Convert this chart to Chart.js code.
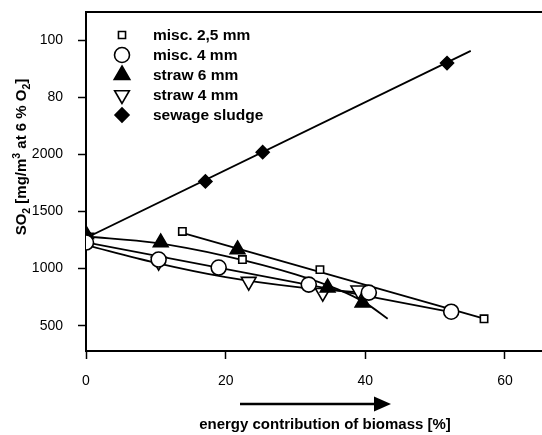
<!DOCTYPE html>
<html><head><meta charset="utf-8">
<script src="https://cdn.jsdelivr.net/npm/chart.js@4.4.0/dist/chart.umd.min.js"></script>
<style>html,body{margin:0;padding:0;background:#fff;}canvas{display:block;}</style>
</head><body>
<canvas id="c" width="542" height="435"></canvas>
<script>
// ---- data ----
const seriesLabels = ['misc. 2,5 mm', 'misc. 4 mm', 'straw 6 mm', 'straw 4 mm', 'sewage sludge'];
const misc25X = [13.8, 22.4, 33.5, 57.0];
const misc25Y = [1325, 1079, 991, 561];
const misc4X = [0, 10.4, 19.0, 31.9, 40.5, 52.3];
const misc4Y = [1228, 1079, 1009, 860, 790, 623];
const straw6X = [0, 10.7, 21.7, 34.6, 39.6];
const straw6Y = [1300, 1228, 1167, 833, 702];
const straw4X = [0, 10.4, 23.3, 33.9, 39.0];
const straw4Y = [1272, 1061, 886, 789, 810];
const sludgeX = [0, 17.1, 25.3, 51.7];
const sludgeY = [1290, 1763, 2018, 2798];
// fitted curves
const misc25FitX = [13.8, 57.0];
const misc25FitY = [1312, 563];
const misc4FitX = [0, 52.3];
const misc4FitY = [1230, 620];
const straw6FitX = [0, 10, 20, 30, 36, 40, 43.2];
const straw6FitY = [1281, 1225, 1110, 950, 820, 700, 561];
const straw4FitX = [0, 10, 20, 30, 39.6];
const straw4FitY = [1205, 1050, 925, 840, 789];
const sludgeFitX = [0, 55.1];
const sludgeFitY = [1268, 2905];
// axes
const xTickValues = [0, 20, 40, 60];
const xTickLabels = ['0', '20', '40', '60'];
const yTickValues = [500, 1000, 1500, 2000, 2500, 3000];
const yTickLabels = ['500', '1000', '1500', '2000', '80', '100'];
const xTitle = 'energy contribution of biomass [%]';

const FONT = "'Liberation Sans', Arial, Helvetica, sans-serif";
const pts = (xs, ys) => xs.map((x, i) => ({x: x, y: ys[i]}));

const markerStyles = [
  {pointStyle: 'rect', radius: 5.2, rotation: 0, fill: '#fff', legendRadius: 5},
  {pointStyle: 'circle', radius: 7.5, rotation: 0, fill: '#fff', legendRadius: 7.5},
  {pointStyle: 'triangle', radius: 8.5, rotation: 0, fill: '#000', legendRadius: 9},
  {pointStyle: 'triangle', radius: 8.5, rotation: 180, fill: '#fff', legendRadius: 8.5},
  {pointStyle: 'rectRot', radius: 6.5, rotation: 0, fill: '#000', legendRadius: 7}
];
const markerData = [pts(misc25X, misc25Y), pts(misc4X, misc4Y), pts(straw6X, straw6Y), pts(straw4X, straw4Y), pts(sludgeX, sludgeY)];
const fitData = [pts(misc25FitX, misc25FitY), pts(misc4FitX, misc4FitY), pts(straw6FitX, straw6FitY), pts(straw4FitX, straw4FitY), pts(sludgeFitX, sludgeFitY)];
const curved = [false, false, true, true, false];

const datasets = [];
markerData.forEach((d, i) => {
  const m = markerStyles[i];
  datasets.push({
    label: seriesLabels[i], data: d, showLine: false, order: 0,
    pointStyle: m.pointStyle, pointRadius: m.radius, pointRotation: m.rotation,
    pointBackgroundColor: m.fill, pointBorderColor: '#000', pointBorderWidth: 1.6
  });
});
fitData.forEach((d, i) => {
  datasets.push({
    label: seriesLabels[i] + ' fit', data: d, showLine: true, order: 1,
    pointRadius: 0, borderColor: '#000', borderWidth: 1.8, fill: false,
    tension: curved[i] ? 0.4 : 0, cubicInterpolationMode: curved[i] ? 'monotone' : 'default'
  });
});

function drawMarker(ctx, style, x, y, r, rot, fill) {
  ctx.save();
  ctx.fillStyle = fill; ctx.strokeStyle = '#000'; ctx.lineWidth = 1.6;
  if (Chart.helpers && Chart.helpers.drawPoint) {
    Chart.helpers.drawPoint(ctx, {pointStyle: style, radius: r, rotation: rot, borderWidth: 1.6}, x, y);
  }
  ctx.restore();
}

const extras = {
  id: 'extras',
  afterDraw(chart) {
    const ctx = chart.ctx, a = chart.chartArea;
    ctx.save();
    // top frame line
    ctx.strokeStyle = '#000'; ctx.lineWidth = 2;
    ctx.beginPath(); ctx.moveTo(a.left - 1, a.top); ctx.lineTo(a.right, a.top); ctx.stroke();
    // legend
    ctx.font = "bold 15.5px " + FONT; ctx.fillStyle = '#000';
    ctx.textBaseline = 'middle'; ctx.textAlign = 'left';
    for (let i = 0; i < seriesLabels.length; i++) {
      const y = 35 + i * 20;
      const m = markerStyles[i];
      drawMarker(ctx, m.pointStyle, 122, y, m.legendRadius, m.rotation, m.fill);
      ctx.fillStyle = '#000';
      ctx.fillText(seriesLabels[i], 153, y + 0.5);
    }
    // x title
    ctx.font = "bold 15px " + FONT; ctx.textAlign = 'center';
    ctx.fillText(xTitle, 325, 425);
    // arrow
    ctx.lineWidth = 2.5;
    ctx.beginPath(); ctx.moveTo(240, 404); ctx.lineTo(378, 404); ctx.stroke();
    ctx.beginPath(); ctx.moveTo(391, 404); ctx.lineTo(374, 396.5); ctx.lineTo(374, 411.5); ctx.closePath(); ctx.fill();
    // y title with sub/superscripts
    const parts = [
      {t: 'SO', f: 15, dy: 0}, {t: '2', f: 10.5, dy: 4}, {t: ' [mg/m', f: 15, dy: 0},
      {t: '3', f: 10.5, dy: -6}, {t: ' at 6 % O', f: 15, dy: 0}, {t: '2', f: 10.5, dy: 4}, {t: ']', f: 15, dy: 0}
    ];
    let total = 0;
    parts.forEach(p => { ctx.font = 'bold ' + p.f + 'px ' + FONT; p.w = ctx.measureText(p.t).width; total += p.w; });
    ctx.translate(26, 157); ctx.rotate(-Math.PI / 2);
    ctx.textAlign = 'left'; ctx.textBaseline = 'alphabetic';
    let x = -total / 2;
    parts.forEach(p => { ctx.font = 'bold ' + p.f + 'px ' + FONT; ctx.fillText(p.t, x, p.dy); x += p.w; });
    ctx.restore();
  }
};

function zeroPad(s) { s.paddingTop = 0; s.paddingBottom = 0; s.paddingLeft = 0; s.paddingRight = 0; }

new Chart(document.getElementById('c'), {
  type: 'scatter',
  data: {datasets: datasets},
  options: {
    responsive: false, animation: false, devicePixelRatio: 1,
    layout: {autoPadding: false, padding: {top: 12, right: 0, left: 0, bottom: 0}},
    plugins: {legend: {display: false}, tooltip: {enabled: false}},
    scales: {
      x: {
        type: 'linear', min: 0, max: 65.3,
        afterBuildTicks: s => { s.ticks = xTickValues.map(v => ({value: v})); },
        afterFit: s => { s.height = 84; zeroPad(s); },
        grid: {display: true, drawOnChartArea: false, drawTicks: true, tickLength: 8, tickWidth: 1.5, tickColor: '#000'},
        border: {display: true, color: '#000', width: 2},
        ticks: {color: '#000', padding: 14, font: {family: FONT, size: 14},
          callback: (v) => { const k = xTickValues.indexOf(v); return k >= 0 ? xTickLabels[k] : ''; }}
      },
      y: {
        type: 'linear', min: 279, max: 3245,
        afterBuildTicks: s => { s.ticks = yTickValues.map(v => ({value: v})); },
        afterFit: s => { s.width = 86; zeroPad(s); },
        grid: {display: true, drawOnChartArea: false, drawTicks: true, tickLength: 8, tickWidth: 1.5, tickColor: '#000'},
        border: {display: true, color: '#000', width: 2},
        ticks: {color: '#000', padding: 15, font: {family: FONT, size: 14},
          callback: (v) => { const k = yTickValues.indexOf(v); return k >= 0 ? yTickLabels[k] : ''; }}
      }
    }
  },
  plugins: [extras]
});
</script>
</body></html>
